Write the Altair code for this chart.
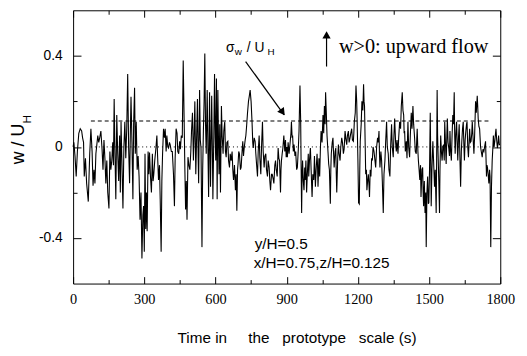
import altair as alt
import pandas as pd

# ---- data: (time in s, w/U_H) ----
seg_0_300 = [
    (0, 0.0), (3, 0.02), (8, -0.04), (13, -0.13), (18, -0.02), (24, 0.06), (30, 0.08), (36, 0.07),
    (40, 0.04), (44, 0.02), (47, -0.13), (52, -0.05), (57, -0.16), (64, -0.24), (70, -0.03), (75, 0.08),
    (80, -0.02), (84, -0.17), (88, -0.1), (92, -0.16), (96, -0.03), (100, 0.01), (104, 0.05), (108, 0.02),
    (112, 0.04), (117, 0.07), (122, -0.01), (126, -0.1), (130, 0.03), (134, -0.05), (138, -0.16), (142, -0.06),
    (146, -0.2), (151, -0.27), (155, -0.02), (159, -0.1), (163, -0.06), (167, 0.02), (170, -0.08), (173, 0.21),
    (176, 0.0), (180, -0.23), (184, 0.14), (188, -0.03), (192, -0.15), (196, 0.05), (199, -0.2), (202, 0.11),
    (206, -0.08), (210, -0.27), (214, 0.0), (218, 0.11), (222, -0.05), (226, 0.08), (230, 0.32), (234, -0.005),
    (238, -0.16), (241, 0.05), (244, 0.22), (248, 0.02), (252, -0.23), (255, 0.1), (259, 0.26), (262, -0.03),
    (266, 0.11), (270, -0.1), (274, -0.04), (278, -0.13), (282, -0.32), (286, -0.2), (290, -0.49), (294, -0.3),
    (297, -0.26), (300, -0.46),
]
seg_300_600 = [
    (303, -0.03), (306, -0.36), (309, -0.2), (312, -0.37), (316, -0.02), (319, -0.12), (322, -0.025), (326, -0.13),
    (330, -0.2), (334, -0.03), (337, -0.15), (340, -0.12), (344, -0.06), (349, -0.005), (353, 0.05), (356, -0.04),
    (360, -0.145), (364, -0.08), (367, -0.23), (371, -0.46), (374, -0.15), (377, -0.03), (381, 0.08), (385, 0.04),
    (388, 0.08), (392, -0.02), (395, 0.05), (399, 0.0), (402, -0.005), (406, 0.02), (409, 0.01), (414, -0.02),
    (418, -0.02), (420, -0.06), (423, -0.12), (427, -0.26), (430, -0.05), (434, 0.08), (438, 0.06), (441, -0.02),
    (445, -0.03), (449, 0.025), (452, -0.01), (456, 0.05), (460, 0.04), (464, 0.38), (468, 0.11), (471, -0.1),
    (474, -0.275), (477, -0.15), (480, -0.32), (484, -0.045), (488, -0.08), (492, -0.1), (496, -0.02), (499, 0.07),
    (503, 0.15), (507, -0.06), (510, 0.05), (513, 0.2), (517, -0.12), (520, 0.02), (524, 0.21), (527, -0.05),
    (529, -0.16), (533, 0.25), (536, 0.03), (539, -0.005), (543, -0.44), (546, -0.1), (549, 0.07), (552, 0.2),
    (555, 0.41), (558, 0.1), (561, -0.03), (565, 0.25), (568, 0.0), (571, -0.22), (575, 0.24), (577, 0.02),
    (579, -0.175), (584, 0.225), (587, -0.02), (589, -0.23), (593, 0.05), (596, 0.32), (599, 0.04), (601, -0.06),
]
seg_600_900 = [
    (604, 0.3), (607, -0.23), (610, 0.25), (613, 0.0), (615, -0.12), (618, 0.1), (621, -0.2), (625, 0.18),
    (628, 0.05), (632, -0.03), (635, 0.07), (639, 0.11), (642, -0.02), (645, -0.045), (648, 0.02), (652, 0.025),
    (655, -0.06), (659, -0.09), (662, -0.03), (666, -0.06), (670, -0.02), (673, -0.1), (676, -0.145), (680, -0.08),
    (684, -0.19), (687, -0.12), (690, -0.28), (693, -0.1), (695, -0.075), (698, -0.02), (701, -0.03), (705, -0.1),
    (708, -0.09), (712, -0.02), (715, 0.025), (718, -0.04), (721, -0.005), (725, 0.03), (728, 0.05), (731, 0.09),
    (735, 0.15), (739, 0.2), (742, 0.22), (746, 0.25), (750, 0.2), (754, 0.11), (757, 0.02), (759, -0.005),
    (763, 0.04), (767, 0.025), (770, -0.03), (773, -0.075), (777, -0.13), (780, -0.02), (784, 0.05), (787, -0.05),
    (791, -0.12), (794, 0.0), (798, 0.11), (801, -0.02), (805, -0.09), (808, -0.04), (812, -0.03), (815, -0.1),
    (819, -0.13), (822, -0.06), (826, -0.09), (829, -0.15), (832, -0.19), (836, -0.12), (839, -0.12), (843, -0.14),
    (846, -0.16), (850, -0.08), (853, -0.06), (856, -0.1), (860, -0.13), (864, -0.005), (867, -0.05), (870, -0.06),
    (874, -0.2), (876, -0.1), (878, -0.06), (881, -0.03), (884, -0.005), (888, 0.05), (892, -0.02), (895, 0.03),
    (898, -0.045),
]
seg_900_1200 = [
    (901, 0.0), (903, -0.045), (906, 0.02), (910, -0.03), (915, 0.025), (918, 0.06), (920, 0.11), (923, 0.04),
    (925, 0.05), (928, -0.02), (931, 0.01), (935, -0.04), (938, -0.02), (942, -0.1), (945, -0.09), (949, -0.01),
    (952, 0.07), (956, 0.27), (959, 0.11), (961, -0.1), (963, -0.29), (965, -0.12), (967, -0.06), (970, -0.15),
    (973, -0.19), (976, -0.09), (978, -0.145), (981, -0.06), (984, -0.2), (987, -0.12), (989, -0.075), (991, -0.03),
    (993, -0.13), (996, -0.06), (1000, -0.005), (1003, -0.1), (1007, -0.22), (1010, -0.12), (1014, -0.145), (1017, -0.04),
    (1021, -0.175), (1024, -0.1), (1028, -0.03), (1030, -0.08), (1032, -0.175), (1036, -0.05), (1039, -0.13), (1042, -0.01),
    (1045, 0.07), (1049, 0.02), (1053, 0.14), (1056, 0.06), (1059, 0.18), (1062, 0.1), (1064, 0.24), (1067, 0.15),
    (1070, 0.05), (1074, -0.02), (1077, -0.075), (1080, -0.1), (1084, -0.25), (1086, -0.1), (1088, -0.03), (1092, 0.02),
    (1095, 0.04), (1098, -0.04), (1100, -0.09), (1104, -0.02), (1107, -0.005), (1109, -0.12), (1111, -0.2), (1115, -0.05),
    (1118, 0.01), (1121, -0.03), (1125, -0.06), (1128, 0.0), (1132, 0.04), (1135, 0.02), (1139, -0.03), (1142, -0.01),
    (1146, 0.07), (1150, 0.03), (1153, 0.01), (1156, 0.05), (1160, 0.07), (1163, 0.02), (1167, 0.04), (1170, 0.06),
    (1174, 0.08), (1177, 0.03), (1181, 0.025), (1183, 0.06), (1185, 0.11), (1189, 0.15), (1192, 0.27), (1195, 0.2),
    (1197, 0.11), (1200, -0.05), (1203, -0.245),
]
seg_1200_1500 = [
    (1206, -0.25), (1208, -0.1), (1210, 0.025), (1214, 0.1), (1217, 0.2), (1221, 0.16), (1224, 0.275), (1226, 0.2),
    (1228, 0.18), (1231, 0.0), (1233, -0.12), (1236, -0.1), (1238, -0.19), (1241, -0.15), (1244, -0.12), (1247, -0.17),
    (1249, -0.22), (1252, -0.1), (1255, -0.13), (1258, -0.05), (1261, -0.06), (1264, 0.0), (1268, -0.02), (1271, -0.05),
    (1275, -0.09), (1279, 0.0), (1283, 0.04), (1286, 0.02), (1289, 0.07), (1291, -0.03), (1293, -0.09), (1297, -0.02),
    (1300, -0.06), (1303, -0.15), (1307, -0.29), (1310, -0.12), (1314, -0.06), (1317, 0.02), (1321, 0.11), (1324, 0.0),
    (1328, -0.03), (1331, -0.1), (1335, -0.13), (1338, 0.0), (1342, 0.1), (1345, 0.0), (1349, -0.045), (1352, 0.05),
    (1355, 0.125), (1359, 0.02), (1362, -0.02), (1365, 0.03), (1369, -0.03), (1372, 0.04), (1376, 0.11), (1380, 0.08),
    (1383, 0.18), (1387, 0.24), (1390, 0.16), (1393, 0.14), (1395, 0.06), (1397, 0.07), (1400, -0.02), (1404, 0.025),
    (1407, -0.05), (1411, 0.11), (1414, 0.0), (1418, -0.045), (1421, 0.05), (1425, 0.15), (1428, 0.08), (1432, 0.18),
    (1435, 0.1), (1439, 0.04), (1442, -0.02), (1446, -0.03), (1448, 0.03), (1450, 0.08), (1453, -0.02), (1455, -0.06),
    (1458, -0.1), (1461, -0.145), (1464, -0.08), (1466, -0.22), (1470, -0.1), (1473, -0.09), (1475, -0.2), (1477, -0.26),
    (1480, -0.15), (1483, -0.29), (1486, -0.2), (1488, -0.44), (1491, -0.2), (1494, -0.13), (1497, -0.25), (1499, -0.245),
]
seg_1500_1800 = [
    (1502, -0.1), (1505, 0.15), (1507, -0.05), (1509, -0.26), (1512, -0.1), (1516, 0.025), (1519, -0.06), (1523, -0.175),
    (1526, -0.1), (1530, -0.29), (1532, -0.05), (1534, 0.25), (1536, 0.05), (1538, -0.03), (1541, -0.15), (1544, -0.29),
    (1546, -0.1), (1549, 0.05), (1552, -0.02), (1555, -0.06), (1558, 0.0), (1561, 0.01), (1564, -0.06), (1566, 0.11),
    (1569, 0.02), (1572, -0.075), (1575, 0.05), (1577, 0.125), (1580, 0.02), (1583, -0.005), (1586, -0.04), (1588, 0.07),
    (1591, -0.02), (1594, -0.06), (1597, 0.05), (1600, 0.14), (1603, 0.1), (1606, 0.24), (1608, 0.05), (1610, -0.03),
    (1613, 0.06), (1616, 0.11), (1619, 0.0), (1621, -0.06), (1624, 0.04), (1627, 0.1), (1630, -0.05), (1633, -0.175),
    (1636, -0.02), (1638, 0.025), (1641, 0.08), (1644, 0.11), (1647, 0.0), (1649, -0.06), (1652, 0.03), (1655, 0.07),
    (1658, 0.1), (1660, 0.11), (1663, 0.0), (1666, -0.045), (1669, 0.03), (1671, 0.08), (1674, 0.02), (1677, 0.025),
    (1680, 0.06), (1682, 0.11), (1686, 0.03), (1689, -0.03), (1692, 0.05), (1696, 0.2), (1699, 0.15), (1703, 0.225),
    (1705, 0.18), (1707, 0.125), (1710, 0.09), (1713, 0.08), (1715, 0.04), (1717, 0.0), (1720, -0.02), (1724, -0.045),
    (1727, -0.01), (1731, -0.02), (1734, 0.0), (1738, 0.025), (1740, -0.05), (1742, -0.13), (1744, -0.08), (1746, -0.09),
    (1749, -0.12), (1752, -0.16), (1755, -0.1), (1757, -0.13), (1760, -0.44), (1763, -0.175), (1766, -0.06), (1769, 0.0),
    (1771, 0.05), (1774, 0.0), (1777, 0.025), (1780, 0.06), (1782, 0.08), (1785, 0.03), (1788, -0.005), (1791, 0.02),
    (1793, 0.05), (1796, 0.01), (1799, 0.01),
]

x_major = [0, 300, 600, 900, 1200, 1500, 1800]
x_minor = [150, 450, 750, 1050, 1350, 1650]
y_major = [-0.4, 0, 0.4]
y_minor = [-0.2, 0.2]
sigma_w = 0.114
ref_span = [75, 1758]

series = pd.DataFrame(
    seg_0_300 + seg_300_600 + seg_600_900 + seg_900_1200 + seg_1200_1500 + seg_1500_1800,
    columns=["t", "w"],
)

W, H = 433, 277
xs = alt.Scale(domain=[0, 1800], nice=False, zero=False)
ys = alt.Scale(domain=[-0.6, 0.6], nice=False, zero=False)


def X(field, axis=None):
    return alt.X(field, type="quantitative", scale=xs, axis=axis)


def Y(field, axis=None):
    return alt.Y(field, type="quantitative", scale=ys, axis=axis)


def tick_axis(orient, values, size, **kw):
    base = dict(orient=orient, values=values, tickSize=size, offset=-size, domain=False,
                grid=False, ticks=True, tickColor="black", tickWidth=1, title=None)
    base.update(kw)
    if "labels" not in base:
        base["labels"] = False
    return alt.Axis(**base)


bottom_major = tick_axis("bottom", x_major, 7, labels=True, labelFont="Liberation Serif",
                         labelFontSize=14.5, labelColor="black", labelPadding=9,
                         labelFlush=False, format="d")
left_major = tick_axis("left", y_major, 8, labels=True, labelFont="Liberation Sans",
                       labelFontSize=14, labelColor="black", labelPadding=11,
                       labelExpr="datum.value == 0 ? '0' : (datum.value < 0 ? '-' + format(-datum.value, '.1f') : format(datum.value, '.1f'))")

line = alt.Chart(series).mark_line(color="black", strokeWidth=1.1).encode(
    x=X("t", bottom_major), y=Y("w", left_major)
)

one = pd.DataFrame({"t": [0], "w": [0]})
carrier = alt.Chart(one).mark_point(opacity=0)
top_right_major = carrier.encode(x=X("t", tick_axis("top", x_major, 7)),
                                 y=Y("w", tick_axis("right", y_major, 8)))
bottom_left_minor = carrier.encode(x=X("t", tick_axis("bottom", x_minor, 4)),
                                   y=Y("w", tick_axis("left", y_minor, 4)))
top_right_minor = carrier.encode(x=X("t", tick_axis("top", x_minor, 4)),
                                 y=Y("w", tick_axis("right", y_minor, 4)))

ref_df = pd.DataFrame({"t0": [ref_span[0]], "t1": [ref_span[1]], "sig": [sigma_w], "zero": [0.0]})
dashed = alt.Chart(ref_df).mark_rule(color="black", strokeWidth=1.1, strokeDash=[4, 3]).encode(
    x=X("t0"), x2="t1", y=Y("sig"))
dotted = alt.Chart(ref_df).mark_rule(color="black", strokeWidth=1, strokeDash=[1, 3]).encode(
    x=X("t0"), x2="t1", y=Y("zero"))

# arrows
arrow_df = pd.DataFrame({"t0": [727, 1068], "w0": [0.375, 0.353], "t1": [889, 1068], "w1": [0.141, 0.49]})
arrows = alt.Chart(arrow_df).mark_rule(color="black", strokeWidth=1.2).encode(
    x=X("t0"), y=Y("w0"), x2="t1", y2="w1")
heads_df = pd.DataFrame({"t": [883, 1068], "w": [0.152, 0.492], "ang": [144, 0]})
heads = alt.Chart(heads_df).mark_point(shape="triangle-up", filled=True, color="black",
                                       opacity=1, size=70).encode(
    x=X("t"), y=Y("w"), angle=alt.Angle("ang:Q", scale=None))

# annotations
def label(df, size, font="Liberation Sans"):
    return alt.Chart(df).mark_text(align="left", baseline="middle", font=font,
                                   fontSize=size, color="black").encode(
        x=X("t"), y=Y("w"), text="txt:N")

big_txt = pd.DataFrame({"t": [644, 732], "w": [0.435, 0.435], "txt": ["σ", "/ U"]})
sub_txt = pd.DataFrame({"t": [681, 819], "w": [0.415, 0.415], "txt": ["w", "H"]})
flow_txt = pd.DataFrame({"t": [1120], "w": [0.44], "txt": ["w>0: upward flow"]})
pos_txt = pd.DataFrame({"t": [765, 761], "w": [-0.427, -0.509],
                        "txt": ["y/H=0.5", "x/H=0.75,z/H=0.125"]})

ann = [label(big_txt, 14), label(sub_txt, 10), label(flow_txt, 20.5, "Liberation Serif"),
       label(pos_txt, 15.5)]

# axis titles
xtitle = alt.Chart(one).mark_text(align="center", baseline="middle", font="Liberation Sans",
                                  fontSize=15.5, color="black").encode(
    x=alt.value(227), y=alt.value(332),
    text=alt.value("Time in\u00a0\u00a0\u00a0\u00a0 the\u00a0\u00a0 prototype\u00a0\u00a0 scale (s)"))
ytitle = alt.Chart(one).mark_text(align="center", baseline="alphabetic", font="Liberation Sans",
                                  fontSize=18, angle=270, color="black").encode(
    x=alt.value(-50), y=alt.value(135.5), text=alt.value("w / U"))
ysub = alt.Chart(one).mark_text(align="center", baseline="alphabetic", font="Liberation Sans",
                                fontSize=12, angle=270, color="black").encode(
    x=alt.value(-43), y=alt.value(110.5), text=alt.value("H"))

chart = alt.layer(
    dotted, dashed, line, top_right_major, bottom_left_minor, top_right_minor,
    arrows, heads, *ann, xtitle, ytitle, ysub,
).resolve_axis(x="independent", y="independent").properties(
    width=W, height=H,
    autosize=alt.AutoSizeParams(type="none"),
    padding={"left": 66, "top": 0, "right": 19, "bottom": 63},
).configure_view(stroke="black", strokeWidth=1)

chart.save("out.html", embed_options={"renderer": "svg", "actions": False})
